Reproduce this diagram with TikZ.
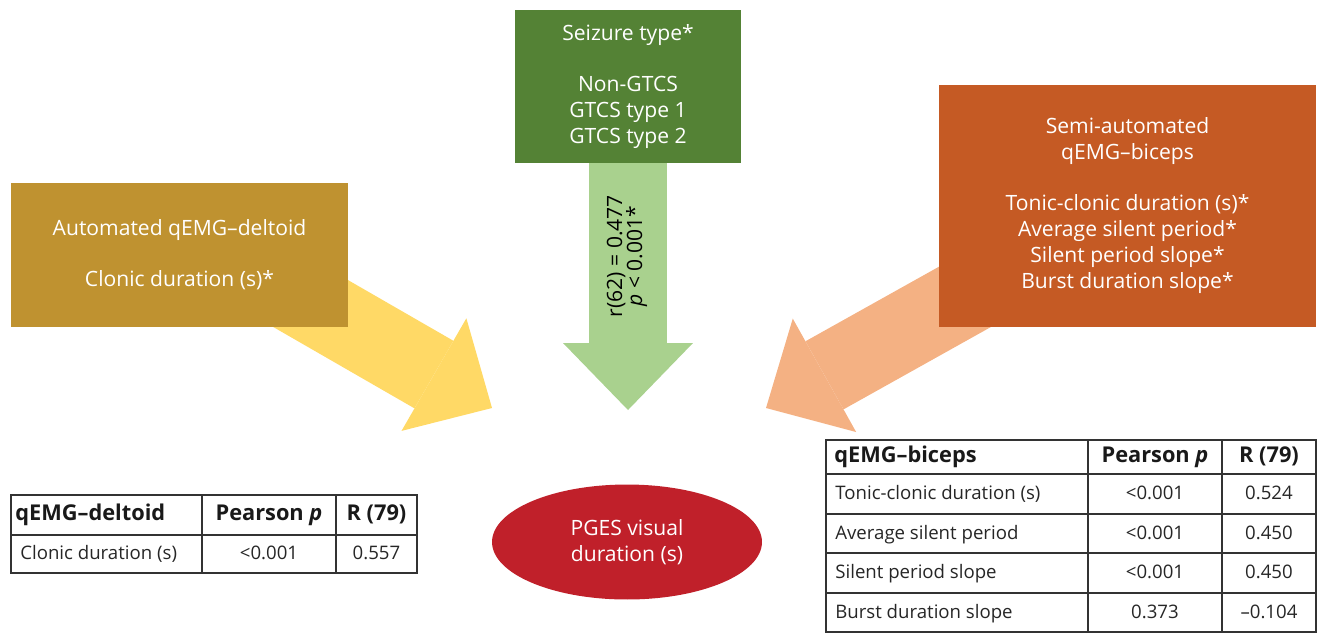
\documentclass[tikz,border=0pt]{standalone}
\usepackage{fontspec}
\setmainfont{Open Sans}
\usetikzlibrary{arrows.meta,shapes.geometric,backgrounds}

\definecolor{deltoidgold}{HTML}{BF9230}
\definecolor{deltoidarrow}{HTML}{FFD966}
\definecolor{seizuregreen}{HTML}{548235}
\definecolor{seizurearrow}{HTML}{A9D18E}
\definecolor{bicepsorange}{HTML}{C55A24}
\definecolor{bicepsarrow}{HTML}{F4B183}
\definecolor{pgesred}{HTML}{C0202A}
\definecolor{tabgray}{HTML}{333333}

\begin{document}
\begin{tikzpicture}[x=0.02cm, y=-0.02cm]
    \tikzset{box/.style = {inner sep=0pt, text=white, align=center, font=\fontsize{12}{14.8}\selectfont}}
    \tikzset{bigarrow/.style = {line width=1.56cm, -{Triangle[length=1.34cm,width=2.6cm,line width=0pt]}}}
    \tikzset{tabline/.style = {draw=tabgray, line width=0.7pt}}
    \tikzset{cell/.style = {inner sep=0pt, text=black!85, text height=1.7ex, text depth=0.45ex, font=\fontsize{10.6}{12}\selectfont}}
    \tikzset{head/.style = {inner sep=0pt, text=black!90, text height=1.7ex, text depth=0.45ex, font=\fontsize{12.4}{14}\selectfont\bfseries}}

    \useasboundingbox (0,0) rectangle (1319,633);

    % source boxes
    \node[box, fill=deltoidgold, minimum width=6.74cm, minimum height=2.88cm] (deltoid) at (179.5,255)
        {Automated qEMG–deltoid\\[0.5cm]Clonic duration (s)*};
    \node[box, fill=seizuregreen, minimum width=4.52cm, minimum height=3.06cm] (seizure) at (628,86.5)
        {Seizure type*\\[0.5cm]Non-GTCS\\GTCS type 1\\GTCS type 2};
    \node[box, fill=bicepsorange, minimum width=7.54cm, minimum height=4.84cm] (biceps) at (1127.5,206)
        {Semi-automated\\qEMG–biceps\\[0.5cm]Tonic-clonic duration (s)*\\Average silent period*\\Silent period slope*\\Burst duration slope*};

    % target
    \node[box, ellipse, fill=pgesred, minimum width=5.4cm, minimum height=2.3cm] (pges) at (627,542)
        {PGES visual\\duration (s)};

    % arrow tips
    \coordinate (ytip) at (492,408);
    \coordinate (gtip) at (628,410);
    \coordinate (otip) at (766,408);
    \begin{scope}[on background layer]
        \draw[bigarrow, deltoidarrow] ([yshift=0.54cm]deltoid.center) -- (ytip);
        \draw[bigarrow, seizurearrow] (seizure.center) -- (gtip);
        \draw[bigarrow, bicepsarrow] (biceps.center) -- (otip);
    \end{scope}
    \node[rotate=90, align=center, inner sep=0pt, font=\fontsize{12}{11.4}\selectfont] (stat) at (627,256)
        {r(62) = 0.477\\\textit{p} < 0.001*};

    % deltoid table
    \draw[tabline] (11,495) rectangle (417,573);
    \draw[tabline] (11,535) -- (417,535) (202,495) -- (202,573) (336,495) -- (336,573);
    \node[head, anchor=west] (dname) at (15,515) {qEMG–deltoid};
    \node[head] (dpear) at (269,515) {Pearson \textit{p}};
    \node[head] (dr) at (376.5,515) {R (79)};
    \node[cell, anchor=west] (dclonic) at (20,554) {Clonic duration (s)};
    \node[cell] (dclonicp) at (269,554) {<0.001};
    \node[cell] (dclonicr) at (376.5,554) {0.557};

    % biceps table
    \draw[tabline] (826,440) rectangle (1316,632);
    \draw[tabline] (826,474) -- (1316,474) (826,514) -- (1316,514) (826,553) -- (1316,553) (826,593) -- (1316,593);
    \draw[tabline] (1088,440) -- (1088,632) (1222,440) -- (1222,632);
    \node[head, anchor=west] (bname) at (834,457) {qEMG–biceps};
    \node[head] (bpear) at (1155,457) {Pearson \textit{p}};
    \node[head] (br) at (1269,457) {R (79)};
    \node[cell, anchor=west] (btonic) at (835,494) {Tonic-clonic duration (s)};
    \node[cell] (btonicp) at (1155,494) {<0.001};
    \node[cell] (btonicr) at (1269,494) {0.524};
    \node[cell, anchor=west] (bavg) at (835,533.5) {Average silent period};
    \node[cell] (bavgp) at (1155,533.5) {<0.001};
    \node[cell] (bavgr) at (1269,533.5) {0.450};
    \node[cell, anchor=west] (bslope) at (835,573) {Silent period slope};
    \node[cell] (bslopep) at (1155,573) {<0.001};
    \node[cell] (bsloper) at (1269,573) {0.450};
    \node[cell, anchor=west] (bburst) at (835,612.5) {Burst duration slope};
    \node[cell] (bburstp) at (1155,612.5) {0.373};
    \node[cell] (bburstr) at (1269,612.5) {–0.104};
\end{tikzpicture}
\end{document}
